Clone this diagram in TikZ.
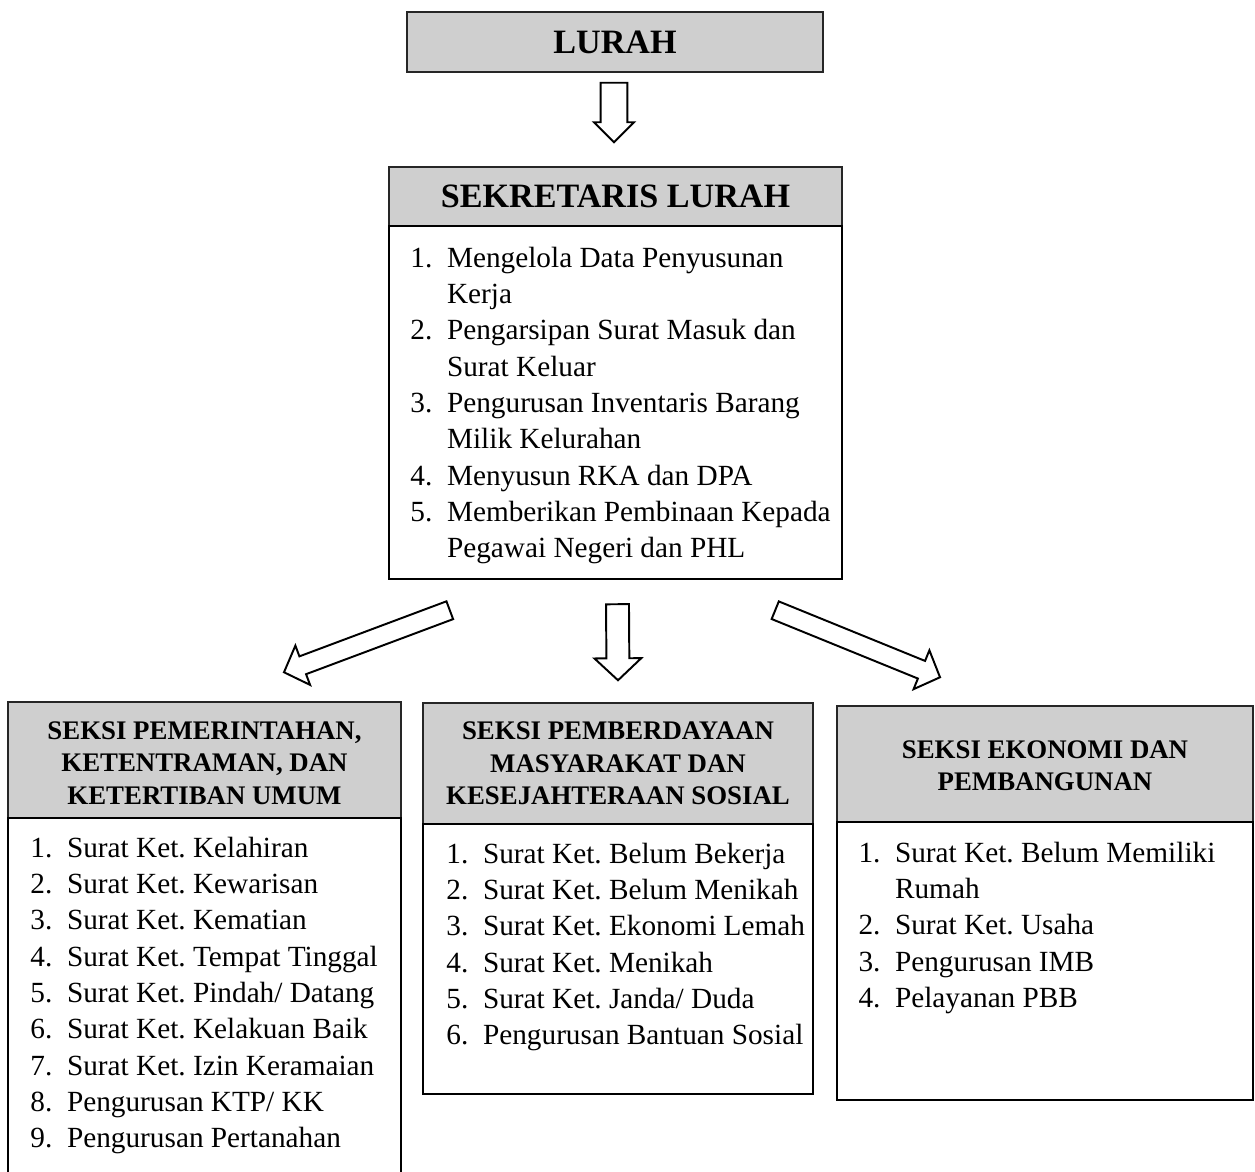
\documentclass[tikz,border=0pt]{standalone}
\usepackage{fontspec}
\setmainfont{Liberation Serif}
\frenchspacing
\usetikzlibrary{calc,fit}
\tikzset{
  every picture/.style={x=0.41pt, y=-0.41pt},
  head/.style={draw=black!85, line width=0.6pt, fill=black!19, inner sep=0pt},
  headtext/.style={inner sep=0pt, align=center, font=\fontsize{11}{13.3}\selectfont\bfseries},
  bigtext/.style={headtext, font=\fontsize{14}{16}\selectfont\bfseries},
  body/.style={draw, line width=1pt, inner sep=0pt},
  list/.style={anchor=base west, inner sep=0pt, font=\fontsize{12}{14.9}\selectfont},
  blk/.style={draw, line width=0.8pt, fill=white, line join=miter},
}
\def\numw{15pt}
\newcommand{\nr}[1]{\makebox[\numw][l]{#1.}}
% hollow block arrow: tail, tip, half shaft, half head, head length
\newcommand{\blockarrow}[5]{%
  \coordinate (neck) at ($(#2)!#5!(#1)$);
  \draw[blk] ($(#1)!#3!90:(#2)$) -- ($(neck)!#3!90:(#2)$) -- ($(neck)!#4!90:(#2)$)
    -- (#2) -- ($(neck)!#4!-90:(#2)$) -- ($(neck)!#3!-90:(#2)$) -- ($(#1)!#3!-90:(#2)$) -- cycle;
}

\begin{document}
\begin{tikzpicture}
  \useasboundingbox (0,0) rectangle (1255,1171);
  \clip (0,0) rectangle (1255,1171);

  \node[head, fit={(407,12) (823,72)}] (lurah) {};
  \node[bigtext] (lurahtxt) at (lurah.center) {LURAH};
  \node[head, fit={(389,167) (842,226)}] (sekhead) {};
  \node[bigtext] (sektxt) at (sekhead.center) {SEKRETARIS LURAH};
  \node[body, fit={(389,226) (842,579)}] (sekbody) {};
  \node[list] (seklist) at (410,267) {\begin{tabular}[t]{@{}l@{}}
    \nr{1}Mengelola Data Penyusunan\\ \hspace{\numw}Kerja\\
    \nr{2}Pengarsipan Surat Masuk dan\\ \hspace{\numw}Surat Keluar\\
    \nr{3}Pengurusan Inventaris Barang\\ \hspace{\numw}Milik Kelurahan\\
    \nr{4}Menyusun RKA dan DPA\\
    \nr{5}Memberikan Pembinaan Kepada\\ \hspace{\numw}Pegawai Negeri dan PHL
  \end{tabular}};

  % three sections
  \node[head, fit={(8,702) (401,818)}] (pemhead) {};
  \node[headtext] (pemtxt) at ($(pemhead.center)+(0,3)$)
    {SEKSI PEMERINTAHAN,\\KETENTRAMAN, DAN\\KETERTIBAN UMUM};
  \node[body, fit={(8,818) (401,1200)}] (pembody) {};
  \node[list] (pemlist) at (30,857) {\begin{tabular}[t]{@{}l@{}}
    \nr{1}Surat Ket. Kelahiran\\
    \nr{2}Surat Ket. Kewarisan\\
    \nr{3}Surat Ket. Kematian\\
    \nr{4}Surat Ket. Tempat Tinggal\\
    \nr{5}Surat Ket. Pindah/ Datang\\
    \nr{6}Surat Ket. Kelakuan Baik\\
    \nr{7}Surat Ket. Izin Keramaian\\
    \nr{8}Pengurusan KTP/ KK\\
    \nr{9}Pengurusan Pertanahan
  \end{tabular}};

  \node[head, fit={(423,703) (813,824)}] (pbdhead) {};
  \node[headtext] (pbdtxt) at (pbdhead.center)
    {SEKSI PEMBERDAYAAN\\MASYARAKAT DAN\\KESEJAHTERAAN SOSIAL};
  \node[body, fit={(423,824) (813,1094)}] (pbdbody) {};
  \node[list] (pbdlist) at (446,863) {\begin{tabular}[t]{@{}l@{}}
    \nr{1}Surat Ket. Belum Bekerja\\
    \nr{2}Surat Ket. Belum Menikah\\
    \nr{3}Surat Ket. Ekonomi Lemah\\
    \nr{4}Surat Ket. Menikah\\
    \nr{5}Surat Ket. Janda/ Duda\\
    \nr{6}Pengurusan Bantuan Sosial
  \end{tabular}};

  \node[head, fit={(837,706) (1253,822)}] (ekohead) {};
  \node[headtext] (ekotxt) at ($(ekohead.center)+(0,2)$) {SEKSI EKONOMI DAN\\PEMBANGUNAN};
  \node[body, fit={(837,822) (1253,1100)}] (ekobody) {};
  \node[list] (ekolist) at (858,862) {\begin{tabular}[t]{@{}l@{}}
    \nr{1}Surat Ket. Belum Memiliki\\ \hspace{\numw}Rumah\\
    \nr{2}Surat Ket. Usaha\\
    \nr{3}Pengurusan IMB\\
    \nr{4}Pelayanan PBB
  \end{tabular}};

  % arrows
  \coordinate (a1) at ($(lurah.south)+(-1,10)$);
  \coordinate (b1) at ($(sekhead.north)+(-1.5,-24)$);
  \blockarrow{a1}{b1}{5.5pt}{8.2pt}{8.2pt}
  \coordinate (a2) at ($(sekbody.south)+(2,24)$);
  \coordinate (b2) at ($(pbdhead.north)+(0,-22)$);
  \blockarrow{a2}{b2}{4.7pt}{9.6pt}{9pt}
  \coordinate (a3) at ($(sekbody.south west)+(62,30)$);
  \coordinate (b3) at ($(pemhead.north)+(79.5,-29)$);
  \blockarrow{a3}{b3}{3.9pt}{8.6pt}{8.2pt}
  \coordinate (a4) at ($(sekbody.south east)+(-68,30)$);
  \coordinate (b4) at ($(ekohead.north)+(-105,-28)$);
  \blockarrow{a4}{b4}{3.9pt}{8.6pt}{8.2pt}
\end{tikzpicture}
\end{document}
